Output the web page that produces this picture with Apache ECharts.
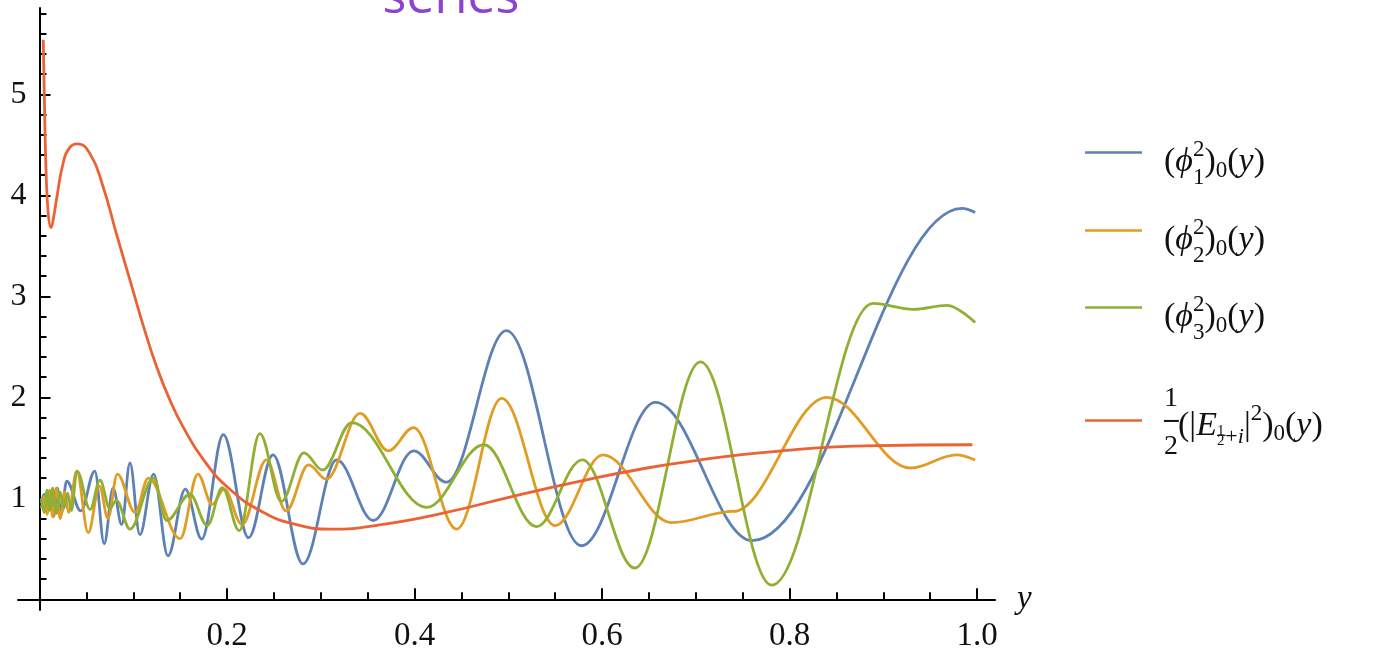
<!DOCTYPE html>
<html><head><meta charset="utf-8">
<script src="https://cdn.jsdelivr.net/npm/echarts@6/dist/echarts.min.js"></script>
<style>html,body{margin:0;padding:0;background:#fff}#c{width:1376px;height:650px}</style>
</head><body><div id="c"></div>
<script>
const titleText = 'series';
const seriesNames = ['(ϕ₁²)₀(y)', '(ϕ₂²)₀(y)', '(ϕ₃²)₀(y)', '½(|E½+i|²)₀(y)'];
const colors = ['#5E81B5', '#E19C24', '#8FB032', '#EB6235'];

// local extrema
const phi1 = [[0.002,0.95],[0.005,1.04],[0.008,0.86],[0.011,1.07],[0.015,0.82],[0.019,1.1],[0.023,0.84],[0.029,1.17],[0.044,0.875],[0.059,1.27],[0.069,0.55],[0.0785,1.1],[0.0877,0.74],[0.0965,1.35],[0.107,0.64],[0.1217,1.24],[0.137,0.43],[0.1555,1.09],[0.173,0.596],[0.196,1.63],[0.223,0.61],[0.249,1.43],[0.281,0.35],[0.317,1.38],[0.356,0.78],[0.399,1.47],[0.434,1.16],[0.498,2.66],[0.578,0.53],[0.657,1.95],[0.76,0.58],[0.984,3.87],[0.998,3.83]];
const phi2 = [[0.002,0.9],[0.005,1.02],[0.008,0.84],[0.011,1.08],[0.014,0.82],[0.018,1.1],[0.022,0.8],[0.027,1.06],[0.031,0.86],[0.0397,1.27],[0.052,0.66],[0.064,1.12],[0.073,0.8],[0.083,1.24],[0.102,0.86],[0.116,1.2],[0.15,0.6],[0.169,1.24],[0.184,0.94],[0.197,1.09],[0.216,0.74],[0.242,1.38],[0.263,0.875],[0.287,1.33],[0.306,1.19],[0.342,1.84],[0.372,1.47],[0.399,1.7],[0.445,0.695],[0.493,1.99],[0.55,0.73],[0.601,1.43],[0.674,0.76],[0.74,0.87],[0.84,2.0],[0.929,1.3],[0.978,1.43],[0.998,1.38]];
const phi3 = [[0.002,1.0],[0.005,0.86],[0.008,1.08],[0.011,0.88],[0.014,1.1],[0.018,0.85],[0.022,1.06],[0.026,0.9],[0.03,1.05],[0.034,0.88],[0.04,1.27],[0.054,0.89],[0.0645,1.18],[0.075,0.9],[0.082,0.98],[0.0965,0.695],[0.1215,1.2],[0.1357,0.78],[0.1605,1.04],[0.179,0.73],[0.195,1.105],[0.213,0.68],[0.235,1.64],[0.258,0.97],[0.282,1.45],[0.302,1.28],[0.333,1.75],[0.413,0.91],[0.474,1.53],[0.53,0.72],[0.579,1.38],[0.635,0.31],[0.705,2.35],[0.781,0.14],[0.889,2.93],[0.932,2.87],[0.968,2.91],[0.998,2.74]];
const eHalf = [[0.004,5.54],[0.005,5.06],[0.007,4.24],[0.0095,3.8],[0.0123,3.68],[0.015,3.78],[0.018,3.95],[0.025,4.31],[0.032,4.47],[0.04,4.51],[0.054,4.41],[0.068,4.08],[0.082,3.62],[0.0965,3.16],[0.111,2.7],[0.125,2.3],[0.139,1.975],[0.153,1.71],[0.175,1.38],[0.203,1.09],[0.239,0.86],[0.274,0.74],[0.31,0.695],[0.363,0.737],[0.434,0.86],[0.505,1.02],[0.577,1.17],[0.648,1.3],[0.705,1.38],[0.78,1.46],[0.88,1.52],[0.995,1.53]];

const xMajorTicks = [0.2, 0.4, 0.6, 0.8, 1.0];
const xMinorTicks = [0.05,0.1,0.15,0.25,0.3,0.35,0.45,0.5,0.55,0.65,0.7,0.75,0.85,0.9,0.95];
const yMajorTicks = [1, 2, 3, 4, 5];
const yMinorTicks = [0.2,0.4,0.6,0.8,1.2,1.4,1.6,1.8,2.2,2.4,2.6,2.8,3.2,3.4,3.6,3.8,4.2,4.4,4.6,4.8,5.2,5.4,5.6,5.8];
const xAxisName = 'y';

const X_MIN = -21.5 / 937.5, X_MAX = 955.5 / 937.5;
const Y_MIN = -10.7 / 101, Y_MAX = 591.3 / 101;
const SERIF = 'Liberation Serif';

const chart = echarts.init(document.getElementById('c'), null, {renderer: 'canvas'});

function xAxisCfg(major) {
  return {
    type: 'value', min: X_MIN, max: X_MAX, position: 'bottom', offset: -10.7,
    axisLine: {show: major, onZero: false, lineStyle: {color: '#000', width: 2}},
    axisTick: {show: true, inside: true, length: major ? 11 : 7, customValues: major ? xMajorTicks : xMinorTicks, lineStyle: {color: '#000', width: 2}},
    axisLabel: major ? {show: true, customValues: xMajorTicks, formatter: v => Number(v).toFixed(1), margin: 21,
      fontFamily: SERIF, fontSize: 33, color: '#111'} : {show: false},
    splitLine: {show: false},
    name: major ? xAxisName : '', nameLocation: 'end', nameGap: 22,
    nameTextStyle: {fontFamily: SERIF, fontStyle: 'italic', fontSize: 33, color: '#111', padding: [6, 0, 0, 0]}
  };
}
function yAxisCfg(major) {
  return {
    type: 'value', min: Y_MIN, max: Y_MAX, position: 'left', offset: -21.5,
    axisLine: {show: major, onZero: false, lineStyle: {color: '#000', width: 2}},
    axisTick: {show: true, inside: true, length: major ? 11 : 7, customValues: major ? yMajorTicks : yMinorTicks, lineStyle: {color: '#000', width: 2}},
    axisLabel: major ? {show: true, customValues: yMajorTicks, formatter: v => String(Math.round(v)), margin: 13,
      fontFamily: SERIF, fontSize: 32, color: '#111'} : {show: false},
    splitLine: {show: false}
  };
}

const C = '#111';
const baseTok = {fontFamily: SERIF, fontSize: 34, color: C, lineHeight: 54};
const richPhi = {
  r: Object.assign({}, baseTok),
  i: Object.assign({}, baseTok, {fontStyle: 'italic'}),
  sup: {fontFamily: SERIF, fontSize: 23, color: C, height: 28, lineHeight: 28, verticalAlign: 'top', width: 0.01},
  sub: {fontFamily: SERIF, fontSize: 23, color: C, height: 24, lineHeight: 24, verticalAlign: 'bottom'},
  s0: {fontFamily: SERIF, fontSize: 23, color: C, height: 38, lineHeight: 38, verticalAlign: 'bottom'}
};
const baseTok4 = {fontFamily: SERIF, fontSize: 34, color: C, lineHeight: 76};
const richE = {
  r: Object.assign({}, baseTok4),
  i: Object.assign({}, baseTok4, {fontStyle: 'italic'}),
  fb: {fontFamily: 'DejaVu Sans Mono', fontSize: 24, color: C, height: 68, lineHeight: 68, verticalAlign: 'top', width: 0.01},
  fn: {fontFamily: SERIF, fontSize: 28, color: C, height: 21, lineHeight: 21, verticalAlign: 'top', width: 0.01},
  fd: {fontFamily: SERIF, fontSize: 28, color: C, height: 36, lineHeight: 36, verticalAlign: 'bottom'},
  sn: {fontFamily: SERIF, fontSize: 15, color: C, height: 66, lineHeight: 66, verticalAlign: 'bottom', width: 0.01},
  sd: {fontFamily: SERIF, fontSize: 15, color: C, height: 46, lineHeight: 46, verticalAlign: 'bottom', width: 0.01},
  sb: {fontFamily: 'DejaVu Sans Mono', fontSize: 14, color: C, height: 56, lineHeight: 56, verticalAlign: 'bottom'},
  sp: {fontFamily: SERIF, fontSize: 22, color: C, height: 54, lineHeight: 54, verticalAlign: 'bottom'},
  si: {fontFamily: SERIF, fontSize: 22, fontStyle: 'italic', color: C, height: 54, lineHeight: 54, verticalAlign: 'bottom'},
  sup: {fontFamily: SERIF, fontSize: 23, color: C, height: 50, lineHeight: 50, verticalAlign: 'top'},
  s0: {fontFamily: SERIF, fontSize: 23, color: C, height: 62, lineHeight: 62, verticalAlign: 'bottom'}
};
const legendTexts = [
  '{r|(}{i|ϕ}{sup|2}{sub|1}{r|)}{s0|0}{r|(}{i|y}{r|)}',
  '{r|(}{i|ϕ}{sup|2}{sub|2}{r|)}{s0|0}{r|(}{i|y}{r|)}',
  '{r|(}{i|ϕ}{sup|2}{sub|3}{r|)}{s0|0}{r|(}{i|y}{r|)}',
  '{fb|─}{fn|1}{fd|2}{r|(|}{i|E}{sn|1}{sd|2}{sb|─}{sp|+}{si|i}{r||}{sup|2}{r|)}{s0|0}{r|(}{i|y}{r|)}'
];
const legendIconY = [152, 230, 307, 420];
const legendTopShift = [16.5, 16.5, 16.5, 35];

const legends = seriesNames.map((n, k) => ({
  data: [n], left: 1085, top: legendIconY[k] - legendTopShift[k], padding: 0,
  icon: 'rect', itemWidth: 57, itemHeight: 2.5,
  formatter: () => legendTexts[k],
  textStyle: k < 3
    ? {rich: richPhi, padding: [20, 0, 0, 17]}
    : {rich: richE, padding: [12, 0, 0, 17]},
  selectedMode: false
}));

const datasets = [phi1, phi2, phi3, eHalf];
chart.setOption({
  animation: false,
  backgroundColor: '#fff',
  title: {text: titleText, left: 446, textAlign: 'center', top: -31,
    textStyle: {fontFamily: 'Open Sans', fontSize: 50, fontWeight: 'normal', color: '#8B44D2'}},
  grid: {left: 18, top: 8, width: 977, height: 602, outerBoundsMode: 'none', containLabel: false},
  legend: legends,
  xAxis: [xAxisCfg(true), xAxisCfg(false)],
  yAxis: [yAxisCfg(true), yAxisCfg(false)],
  series: datasets.map((d, k) => ({
    name: seriesNames[k], type: 'line', xAxisIndex: 0, yAxisIndex: 0,
    data: d, smooth: k < 3 ? 0.36 : 0.5, smoothMonotone: k < 3 ? 'x' : undefined,
    showSymbol: false, symbol: 'none',
    lineStyle: {width: 2.8, color: colors[k]}, itemStyle: {color: colors[k]},
    emphasis: {disabled: true}
  }))
});
</script></body></html>
